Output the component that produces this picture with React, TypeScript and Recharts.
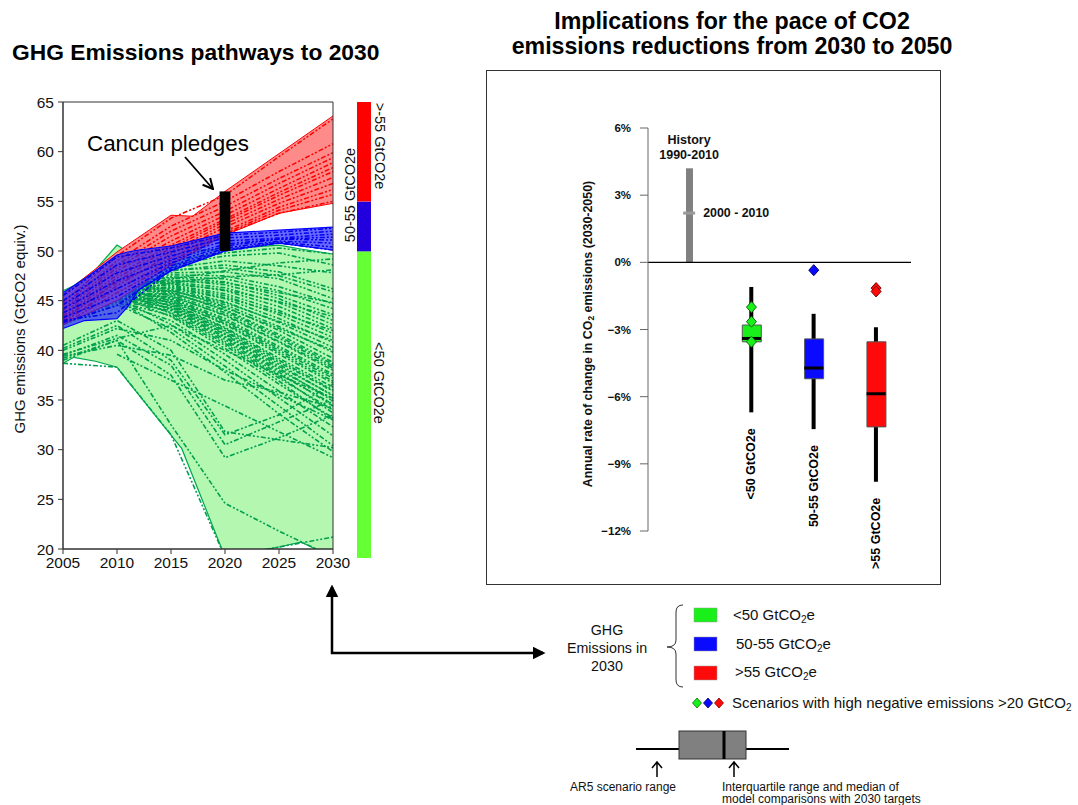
import React from "react";
import {
  ComposedChart,
  Area,
  Line,
  Bar,
  Cell,
  Scatter,
  XAxis,
  YAxis,
  ReferenceArea,
  ReferenceLine,
} from "recharts";

const FONT = '"Liberation Sans", Arial, Helvetica, sans-serif';

// ---------- left panel: GHG emission pathways ----------
const pathYears = [2005, 2010, 2015, 2020, 2025, 2030];
const emissionTicks = [20, 25, 30, 35, 40, 45, 50, 55, 60, 65];

const greenBandYears = [2005, 2006, 2008, 2010, 2011, 2016, 2020, 2025, 2027, 2030];
const greenBandLow = [38.7, 39.3, 38.9, 38.3, 36.9, 30.1, 19.2, 20.2, 20.7, 19.2];
const greenBandHigh = [46.0, 46.5, 48.1, 50.6, 49.9, 50.0, 50.2, 50.6, 50.2, 49.7];

const redBandYears = [2005, 2010, 2015, 2017, 2020, 2025, 2030];
const redBandLow = [42.6, 45.0, 48.6, 49.8, 51.6, 53.8, 54.8];
const redBandHigh = [45.6, 49.9, 53.6, 53.5, 56.0, 59.8, 63.6];

const blueBandYears = [2005, 2007, 2010, 2011, 2012, 2015, 2020, 2025, 2030];
const blueBandLow = [42.2, 43.0, 43.2, 44.4, 46.1, 48.0, 50.0, 50.8, 50.1];
const blueBandHigh = [45.8, 47.2, 49.6, 49.9, 50.1, 50.5, 51.8, 52.1, 52.4];

// scenario values at 2005, 2010, 2015, 2020, 2025, 2030
const greenPaths: (number | null)[][] = [
  [44.5, 47.8, 49.0, 49.8, 50.3, 49.7],
  [44.2, 47.5, 48.6, 49.5, 49.8, 48.6],
  [43.6, 46.1, 47.2, 48.0, 48.8, 49.2],
  [43.2, 45.6, 46.8, 47.4, 47.6, 48.1],
  [44.0, 47.3, 48.3, 49.0, 48.5, 47.8],
  [43.8, 47.0, 48.0, 48.6, 47.9, 46.2],
  [44.3, 47.6, 48.1, 48.3, 47.5, 45.9],
  [43.9, 46.9, 47.8, 47.9, 47.2, 45.2],
  [43.4, 46.5, 47.0, 46.8, 45.8, 44.8],
  [44.1, 47.2, 47.6, 47.5, 46.4, 44.7],
  [43.6, 46.8, 47.4, 47.2, 46.0, 44.2],
  [44.0, 47.0, 47.3, 46.9, 45.5, 43.6],
  [43.8, 46.9, 46.7, 46.1, 44.9, 43.4],
  [43.7, 46.6, 47.1, 46.6, 45.2, 43.0],
  [43.5, 46.4, 46.9, 46.3, 44.8, 42.6],
  [44.2, 47.1, 46.8, 46.0, 44.4, 42.2],
  [43.1, 45.9, 46.4, 45.3, 43.8, 42.0],
  [43.4, 46.2, 46.6, 45.7, 44.0, 41.7],
  [43.9, 46.7, 46.5, 45.5, 43.6, 41.3],
  [43.6, 46.3, 46.0, 44.8, 42.9, 41.0],
  [43.3, 46.0, 46.3, 45.2, 43.2, 40.8],
  [43.6, 46.5, 46.2, 44.9, 42.8, 40.3],
  [43.2, 45.7, 45.7, 44.3, 42.2, 40.0],
  [43.2, 45.8, 46.0, 44.6, 42.4, 39.8],
  [44.0, 46.9, 46.1, 44.4, 42.0, 39.2],
  [43.5, 46.3, 45.8, 44.1, 41.6, 38.8],
  [43.9, 46.8, 45.9, 44.0, 41.4, 38.6],
  [43.1, 45.6, 45.6, 43.8, 41.2, 38.4],
  [43.0, 45.5, 45.4, 43.6, 40.9, 38.2],
  [43.8, 46.6, 45.5, 43.5, 40.8, 38.0],
  [43.4, 46.1, 45.3, 43.2, 40.4, 37.6],
  [43.5, 46.2, 45.2, 43.0, 40.2, 37.4],
  [43.0, 45.4, 45.1, 42.9, 40.0, 37.2],
  [42.9, 45.3, 44.9, 42.7, 39.8, 36.9],
  [43.7, 46.4, 45.0, 42.6, 39.6, 36.7],
  [43.3, 45.9, 44.8, 42.3, 39.2, 36.3],
  [43.7, 46.5, 44.7, 42.2, 39.0, 36.0],
  [42.9, 45.2, 44.6, 42.0, 38.8, 35.9],
  [43.6, 46.2, 44.4, 41.7, 38.4, 35.5],
  [43.3, 45.8, 44.5, 41.9, 38.6, 35.4],
  [43.2, 45.7, 44.2, 41.4, 38.0, 35.1],
  [42.8, 45.1, 44.3, 41.6, 38.2, 34.9],
  [42.8, 45.0, 44.0, 41.1, 37.6, 34.6],
  [43.4, 45.9, 44.1, 41.3, 37.8, 34.4],
  [43.5, 46.0, 43.7, 40.7, 37.2, 34.0],
  [43.0, 45.4, 43.8, 40.9, 37.4, 33.7],
  [43.0, 45.5, 43.4, 40.2, 36.6, 33.2],
  [42.7, 44.9, 43.5, 40.5, 36.9, 33.0],
  [42.7, 44.8, 43.0, 39.6, 35.9, 32.3],
  [43.3, 45.3, 42.6, 39.0, 35.2, 31.4],
  [42.6, 44.6, 42.2, 38.4, 34.4, 30.4],
  [43.1, 45.1, 41.8, 37.8, 33.6, 29.8],
  [39.6, 41.2, 42.5, 40.0, 37.5, 35.2],
  [40.0, 42.2, 41.0, 38.0, 35.5, 33.0],
  [39.4, 40.5, 39.5, 37.0, 35.8, 34.2],
  [null, 39.6, 37.0, 34.4, 31.8, 29.2],
  [39.2, 41.0, 37.5, 29.2, 31.2, 33.5],
  [39.5, 41.5, 38.5, 30.5, 32.8, 35.0],
  [40.2, 42.5, 39.0, 31.5, 33.5, 36.6],
  [40.5, 43.0, 40.0, 31.8, 31.0, 30.2],
  [39.0, 41.0, 32.5, 24.6, 21.8, 19.2],
  [38.7, 38.3, 31.5, 19.2, 20.2, 21.2],
];

const redPaths: number[][] = [
  [44.8, 49.5, 53.3, 55.6, 59.5, 63.3],
  [44.5, 49.0, 52.5, 55.0, 58.0, 60.8],
  [44.2, 48.6, 52.0, 54.5, 57.3, 59.9],
  [44.0, 48.3, 51.5, 54.0, 56.8, 59.4],
  [43.7, 48.0, 51.0, 53.6, 56.3, 58.9],
  [43.5, 47.6, 50.6, 53.2, 55.9, 58.4],
  [43.3, 47.3, 50.3, 53.0, 55.6, 58.0],
  [43.0, 47.0, 50.0, 52.7, 55.2, 57.4],
  [42.8, 46.5, 49.7, 52.4, 54.8, 56.8],
  [43.2, 46.8, 49.3, 52.0, 54.4, 56.2],
  [42.9, 46.2, 49.0, 51.8, 54.1, 55.7],
  [42.6, 45.8, 48.7, 51.7, 53.8, 55.0],
];

const bluePaths: number[][] = [
  [45.5, 49.4, 50.3, 51.6, 51.9, 52.3],
  [45.0, 48.6, 49.9, 51.3, 51.6, 52.0],
  [44.6, 47.8, 49.5, 51.0, 51.3, 51.7],
  [44.2, 47.0, 49.1, 50.7, 51.2, 51.4],
  [43.8, 46.2, 48.8, 50.5, 51.2, 51.1],
  [43.3, 45.4, 48.5, 50.3, 51.0, 50.8],
  [42.8, 44.5, 48.3, 50.1, 50.9, 50.4],
  [43.0, 43.8, 48.1, 50.0, 50.8, 50.1],
];

const cancunYear = 2020;
const cancunRange = [50, 56];

const colorbarEdges = [19.2, 50, 55, 65];
const colorbarColors = ["#66ff33", "#2200dd", "#ff0000"];

// ---------- right panel: annual rate of change 2030-2050 ----------
const rateTicks = [-12, -9, -6, -3, 0, 3, 6];
const boxLabels = ["<50 GtCO2e", "50-55 GtCO2e", ">55 GtCO2e"];
const boxPositions = [2, 3, 4];
const boxMin = [-6.7, -7.45, -9.8];
const boxQ1 = [-3.55, -5.2, -7.35];
const boxMedian = [-3.4, -4.72, -5.87];
const boxQ3 = [-2.8, -3.42, -3.55];
const boxMax = [-1.1, -2.3, -2.9];
const boxColors = ["#19f019", "#0a0aff", "#ff0a0a"];
const boxEdgeColors = ["#0a6a0a", "#00006a", "#7a0000"];
const negEmissionRates = [[-2.0, -2.65, -3.55], [-0.35], [-1.15, -1.3]];
const historyPosition = 1;
const historyRange = [0, 4.2];
const decadeRate = 2.2;

const toPoints = (values: (number | null)[]) =>
  pathYears.map((year, i) => ({ year, v: values[i] })).filter((p) => p.v != null);

const toBand = (years: number[], low: number[], high: number[]) =>
  years.map((year, i) => ({ year, range: [low[i], high[i]] }));

const fmtRate = (v: number) => (v < 0 ? `\u2212${Math.abs(v)}%` : `${v}%`);

const rateRows = [
  { pos: historyPosition, history: historyRange },
  ...boxLabels.map((label, i) => ({
    pos: boxPositions[i],
    whisker: [boxMin[i], boxMax[i]],
    box: [boxQ1[i], boxQ3[i]],
    color: boxColors[i],
  })),
];
const medianRows = boxLabels.map((_, i) => ({ pos: boxPositions[i], median: boxMedian[i] }));
const labelRows = boxLabels.map((label, i) => ({ pos: boxPositions[i], min: boxMin[i], label }));
const diamondRows = negEmissionRates.flatMap((vals, i) =>
  vals.map((v) => ({ pos: boxPositions[i], v, color: boxColors[i], edge: boxEdgeColors[i] }))
);
const colorbarRows = colorbarColors.map((color, i) => ({
  x: 0,
  range: [colorbarEdges[i], colorbarEdges[i + 1]],
  color,
}));

const MedianTick = (p: any) =>
  p.cy == null ? null : (
    <line x1={p.cx - 9.5} x2={p.cx + 9.5} y1={p.cy} y2={p.cy} stroke="#000" strokeWidth={3} />
  );

const Diamond = (p: any) =>
  p.cy == null ? null : (
    <path
      d={`M${p.cx},${p.cy - 5.5}L${p.cx + 5},${p.cy}L${p.cx},${p.cy + 5.5}L${p.cx - 5},${p.cy}Z`}
      fill={p.payload.color}
      stroke={p.payload.edge}
      strokeWidth={1}
    />
  );

const CategoryLabel = (p: any) =>
  p.cy == null ? null : (
    <text
      transform={`translate(${p.cx},${p.cy + 16}) rotate(-90)`}
      textAnchor="end"
      dominantBaseline="central"
      fontSize={12.5}
      fontWeight={700}
      fontFamily={FONT}
      fill="#000"
    >
      {p.payload.label}
    </text>
  );

const HistoryLabel = (p: any) =>
  p.cy == null ? null : (
    <g fontFamily={FONT} fontSize={12.5} fontWeight={700} fill="#111" textAnchor="middle">
      <text x={p.cx} y={p.cy - 28} dominantBaseline="central">History</text>
      <text x={p.cx} y={p.cy - 13} dominantBaseline="central">1990-2010</text>
    </g>
  );

const DecadeMark = (p: any) =>
  p.cy == null ? null : (
    <g>
      <rect x={p.cx - 6} y={p.cy - 1.5} width={12} height={3} fill="#9a9a9a" />
      <text x={p.cx + 14} y={p.cy} dominantBaseline="central" fontFamily={FONT} fontSize={12.4} fontWeight={700} fill="#111">
        2000 - 2010
      </text>
    </g>
  );

const tickStyle = { fontSize: 15.5, fill: "#111", fontFamily: FONT };
const DASH = "5 2 2 2 2 2";

function PathwaysChart() {
  return (
    <ComposedChart width={362} height={490} margin={{ top: 12, right: 29, bottom: 1, left: 18 }}>
      <XAxis
        type="number"
        dataKey="year"
        domain={[2005, 2030]}
        ticks={pathYears}
        tickSize={5}
        tickMargin={3}
        height={30}
        stroke="#333"
        tick={tickStyle}
      />
      <YAxis
        type="number"
        domain={[20, 65]}
        ticks={emissionTicks}
        allowDataOverflow
        width={45}
        tickSize={5}
        tickMargin={4}
        stroke="#333"
        tick={tickStyle}
      />
      <Area
        data={toBand(greenBandYears, greenBandLow, greenBandHigh)}
        dataKey="range"
        type="linear"
        fill="#b3f7b1"
        fillOpacity={1}
        stroke="#00a650"
        strokeWidth={1.2}
        dot={false}
        activeDot={false}
        isAnimationActive={false}
        zIndex={110}
      />
      {greenPaths.map((p, i) => (
        <Line
          key={`g${i}`}
          data={toPoints(p)}
          dataKey="v"
          type="linear"
          stroke="#00a04e"
          strokeWidth={1.6}
          strokeDasharray={DASH}
          dot={false}
          activeDot={false}
          isAnimationActive={false}
          zIndex={120}
        />
      ))}
      <Area
        data={toBand(redBandYears, redBandLow, redBandHigh)}
        dataKey="range"
        type="linear"
        fill="#ff8a8a"
        fillOpacity={1}
        stroke="#ff0000"
        strokeWidth={1}
        dot={false}
        activeDot={false}
        isAnimationActive={false}
        zIndex={130}
      />
      {redPaths.map((p, i) => (
        <Line
          key={`r${i}`}
          data={toPoints(p)}
          dataKey="v"
          type="linear"
          stroke="#ff0000"
          strokeWidth={1.5}
          strokeDasharray={DASH}
          dot={false}
          activeDot={false}
          isAnimationActive={false}
          zIndex={140}
        />
      ))}
      <Area
        data={toBand(blueBandYears, blueBandLow, blueBandHigh)}
        dataKey="range"
        type="linear"
        fill="#2020ff"
        fillOpacity={0.68}
        stroke="#0000ff"
        strokeWidth={1.2}
        dot={false}
        activeDot={false}
        isAnimationActive={false}
        zIndex={150}
      />
      {bluePaths.map((p, i) => (
        <Line
          key={`b${i}`}
          data={toPoints(p)}
          dataKey="v"
          type="linear"
          stroke="#0000ee"
          strokeWidth={1.5}
          strokeDasharray={DASH}
          dot={false}
          activeDot={false}
          isAnimationActive={false}
          zIndex={160}
        />
      ))}
      <ReferenceArea
        x1={cancunYear - 0.5}
        x2={cancunYear + 0.5}
        y1={cancunRange[0]}
        y2={cancunRange[1]}
        fill="#000"
        fillOpacity={1}
        stroke="none"
        zIndex={1000}
      />
      <ReferenceArea x1={2005} x2={2030} y1={20} y2={65} fill="none" stroke="#333" strokeWidth={1} zIndex={1000} />
    </ComposedChart>
  );
}

function Colorbar() {
  return (
    <ComposedChart width={14} height={456} data={colorbarRows} margin={{ top: 0, right: 0, bottom: 0, left: 0 }}>
      <XAxis type="number" dataKey="x" domain={[-1, 1]} hide />
      <YAxis type="number" domain={[colorbarEdges[0], colorbarEdges[3]]} allowDataOverflow hide />
      <Bar dataKey="range" barSize={14} isAnimationActive={false}>
        {colorbarRows.map((r) => (
          <Cell key={r.color} fill={r.color} />
        ))}
      </Bar>
    </ComposedChart>
  );
}

function RateChart() {
  const xDomain = [0.34, 4.56];
  return (
    <ComposedChart width={455} height={515} data={rateRows} margin={{ top: 58, right: 30, bottom: 54, left: 112 }}>
      <XAxis xAxisId="box" type="number" dataKey="pos" domain={xDomain} hide />
      <XAxis xAxisId="whisker" type="number" dataKey="pos" domain={xDomain} hide />
      <XAxis xAxisId="history" type="number" dataKey="pos" domain={xDomain} hide />
      <YAxis
        type="number"
        domain={[-12, 6]}
        ticks={rateTicks}
        width={50}
        tickSize={8}
        tickMargin={9}
        stroke="#666"
        tickFormatter={fmtRate}
        tick={{ fontSize: 11.5, fontWeight: 700, fill: "#111", fontFamily: FONT }}
      />
      <ReferenceLine xAxisId="box" y={0} stroke="#000" strokeWidth={1.3} />
      <Bar xAxisId="history" dataKey="history" barSize={7} fill="#808080" isAnimationActive={false} />
      <Bar xAxisId="whisker" dataKey="whisker" barSize={4} fill="#000" isAnimationActive={false} />
      <Bar xAxisId="box" dataKey="box" barSize={19} stroke="#555" strokeWidth={1} isAnimationActive={false}>
        {rateRows.map((r: any, i) => (
          <Cell key={i} fill={r.color ?? "none"} />
        ))}
      </Bar>
      <Scatter xAxisId="box" data={medianRows} dataKey="median" shape={MedianTick} isAnimationActive={false} />
      <Scatter xAxisId="box" data={diamondRows} dataKey="v" shape={Diamond} isAnimationActive={false} />
      <Scatter xAxisId="box" data={labelRows} dataKey="min" shape={CategoryLabel} isAnimationActive={false} />
      <Scatter
        xAxisId="history"
        data={[{ pos: historyPosition, top: historyRange[1] }]}
        dataKey="top"
        shape={HistoryLabel}
        isAnimationActive={false}
      />
      <Scatter
        xAxisId="history"
        data={[{ pos: historyPosition, v: decadeRate }]}
        dataKey="v"
        shape={DecadeMark}
        isAnimationActive={false}
      />
    </ComposedChart>
  );
}

function Annotations() {
  return (
    <svg
      width={1078}
      height={805}
      style={{ position: "absolute", left: 0, top: 0, pointerEvents: "none", overflow: "hidden" }}
      fontFamily={FONT}
    >
      <defs>
        <marker id="head" viewBox="0 0 10 10" refX="8" refY="5" markerWidth="5" markerHeight="5" orient="auto-start-reverse">
          <path d="M0,0L10,5L0,10Z" fill="#000" />
        </marker>
        <marker id="open" viewBox="0 0 10 10" refX="9" refY="5" markerWidth="7" markerHeight="7" orient="auto">
          <path d="M1,1L9,5L1,9" fill="none" stroke="#000" strokeWidth={1.6} />
        </marker>
      </defs>

      {/* left axis label */}
      <text transform="translate(19,329) rotate(-90)" textAnchor="middle" dominantBaseline="central" fontSize={15} fill="#111">
        GHG emissions (GtCO2 equiv.)
      </text>

      {/* colorbar labels */}
      <text transform="translate(380,146) rotate(90)" textAnchor="middle" dominantBaseline="central" fontSize={14.5} fill="#111">
        {">-55 GtCO2e"}
      </text>
      <text transform="translate(350,195) rotate(-90)" textAnchor="middle" dominantBaseline="central" fontSize={14.5} fill="#111">
        50-55 GtCO2e
      </text>
      <text transform="translate(379,383) rotate(90)" textAnchor="middle" dominantBaseline="central" fontSize={14.5} fill="#111">
        {"<50 GtCO2e"}
      </text>

      {/* Cancun pledges note */}
      <text x={87} y={143} dominantBaseline="central" fontSize={22.4} fill="#000">
        Cancun pledges
      </text>
      <line x1={185} y1={157} x2={213} y2={189} stroke="#000" strokeWidth={1.8} markerEnd="url(#open)" />

      {/* right axis label */}
      <text
        transform="translate(588,334) rotate(-90)"
        textAnchor="middle"
        dominantBaseline="central"
        fontSize={12.4}
        fontWeight={700}
        fill="#111"
      >
        Annual rate of change in CO
        <tspan dy={3} fontSize={8.5}>2</tspan>
        <tspan dy={-3}> emissions (2030-2050)</tspan>
      </text>

      {/* linking arrow */}
      <path
        d="M332,587 L332,653 L543,653"
        fill="none"
        stroke="#000"
        strokeWidth={2.5}
        markerStart="url(#head)"
        markerEnd="url(#head)"
      />

      {/* legend */}
      <g fontSize={14.3} fill="#111" textAnchor="middle">
        <text x={607} y={630} dominantBaseline="central">GHG</text>
        <text x={607} y={648} dominantBaseline="central">Emissions in</text>
        <text x={607} y={666} dominantBaseline="central">2030</text>
      </g>
      <path
        d="M683,605 Q676,605 676,612 L676,640 Q676,647 667,647 Q676,647 676,654 L676,680 Q676,687 683,687"
        fill="none"
        stroke="#333"
        strokeWidth={1}
      />
      {boxColors.map((c, i) => (
        <rect key={c} x={694} y={608 + i * 29} width={23} height={14} fill={c} stroke="#9a9a9a" strokeWidth={0.5} />
      ))}
      <g fontSize={15} fill="#111">
        <text x={733} y={620}>
          {"<50 GtCO"}
          <tspan dy={3} fontSize={10}>2</tspan>
          <tspan dy={-3}>e</tspan>
        </text>
        <text x={736} y={649}>
          50-55 GtCO
          <tspan dy={3} fontSize={10}>2</tspan>
          <tspan dy={-3}>e</tspan>
        </text>
        <text x={735} y={677}>
          {">55 GtCO"}
          <tspan dy={3} fontSize={10}>2</tspan>
          <tspan dy={-3}>e</tspan>
        </text>
        <text x={732} y={708}>
          {"Scenarios with high negative emissions >20 GtCO"}
          <tspan dy={3} fontSize={10}>2</tspan>
        </text>
      </g>
      {boxColors.map((c, i) => (
        <path
          key={`d${c}`}
          d={`M${697 + i * 11},698 l4.5,5 l-4.5,5 l-4.5,-5Z`}
          fill={c}
          stroke={boxEdgeColors[i]}
          strokeWidth={0.8}
        />
      ))}

      {/* box key */}
      <line x1={636} x2={789} y1={749} y2={749} stroke="#000" strokeWidth={2} />
      <rect x={679} y={731} width={67} height={28} fill="#808080" stroke="#333" strokeWidth={1} />
      <line x1={724} x2={724} y1={731} y2={759} stroke="#000" strokeWidth={3} />
      <path d="M657,777 L657,763 M652,768 L657,762 L662,768" fill="none" stroke="#000" strokeWidth={1.5} />
      <path d="M734,777 L734,763 M729,768 L734,762 L739,768" fill="none" stroke="#000" strokeWidth={1.5} />
      <g fontSize={12} fill="#111">
        <text x={623} y={791} textAnchor="middle">AR5 scenario range</text>
        <text x={722} y={791}>Interquartile range and median of</text>
        <text x={722} y={803}>model comparisons with 2030 targets</text>
      </g>
    </svg>
  );
}

export default function App() {
  return (
    <div
      style={{
        position: "absolute",
        left: 0,
        top: 0,
        width: 1078,
        height: 805,
        overflow: "hidden",
        background: "#fff",
        fontFamily: FONT,
        color: "#000",
      }}
    >
      <div style={{ position: "absolute", left: 12, top: 39, fontSize: 22.8, fontWeight: 700, lineHeight: "26px", whiteSpace: "nowrap" }}>
        GHG Emissions pathways to 2030
      </div>
      <div
        style={{
          position: "absolute",
          left: 482,
          top: 9,
          width: 500,
          textAlign: "center",
          fontSize: 23.2,
          fontWeight: 700,
          lineHeight: "25px",
          whiteSpace: "nowrap",
        }}
      >
        Implications for the pace of CO2
        <br />
        emissions reductions from 2030 to 2050
      </div>

      <div style={{ position: "absolute", left: 0, top: 90 }}>
        <PathwaysChart />
      </div>
      <div style={{ position: "absolute", left: 357, top: 102 }}>
        <Colorbar />
      </div>

      <div
        style={{
          position: "absolute",
          left: 486,
          top: 70,
          width: 455,
          height: 515,
          border: "1.5px solid #333",
          boxSizing: "border-box",
        }}
      />
      <div style={{ position: "absolute", left: 486, top: 70 }}>
        <RateChart />
      </div>

      <Annotations />
    </div>
  );
}
